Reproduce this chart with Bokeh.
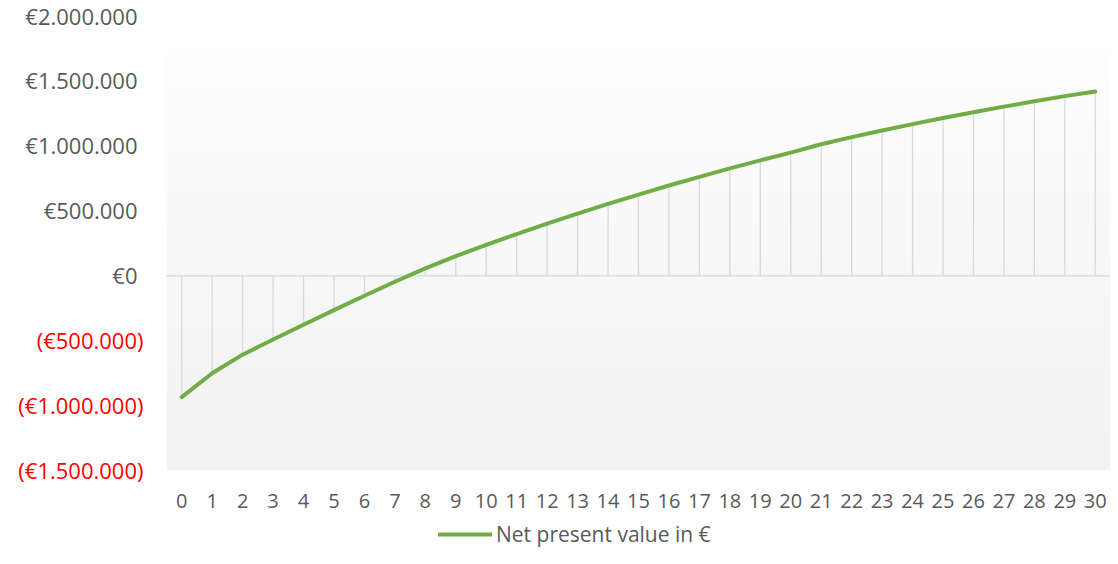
import numpy as np
from bokeh.plotting import figure
from bokeh.models import Range1d, Legend, LegendItem
from bokeh.core.properties import value
from bokeh.embed import file_html
from bokeh.resources import INLINE

# ---- data ----
years = list(range(0, 31))
npv = [-934000, -750000, -607000, -490000, -376000, -264000, -153000, -45000, 58000, 152000,
       240000, 323000, 403000, 480000, 555000, 627000, 697000, 764000, 829000, 891000,
       951000, 1015000, 1070000, 1121000, 1170000, 1217000, 1262000, 1305000, 1346000, 1386000,
       1422000]
series_name = "Net present value in €"
ytick_values = [-1500000, -1000000, -500000, 0, 500000, 1000000, 1500000, 2000000]
ytick_labels = ["(€1.500.000)", "(€1.000.000)", "(€500.000)", "€0",
                "€500.000", "€1.000.000", "€1.500.000", "€2.000.000"]
year_labels = [str(y) for y in years]

GRAY = "#595959"
RED = "#ff0000"
FONT = "Open Sans"

# ---- layout (pixels) ----
W, H = 1110, 548
L, T, B = 166, 16, 470          # plot-area left / top / bottom in pixels
R = W                            # plot-area right

x0, x1 = years[0] - 0.5, years[-1] + 0.5
y0, y1 = min(ytick_values), max(ytick_values)
ux = (x1 - x0) / (R - L)
uy = (y1 - y0) / (B - T)

p = figure(width=W, height=H, output_backend="svg", toolbar_location=None,
           x_range=Range1d(x0 - L * ux, x1 + (W - R) * ux),
           y_range=Range1d(y0 - (H - B) * uy, y1 + T * uy),
           x_axis_location=None, y_axis_location=None,
           min_border=0)
p.min_border_left = 0
p.min_border_right = 0
p.min_border_top = 0
p.min_border_bottom = 0
p.outline_line_color = None
p.xgrid.visible = False
p.ygrid.visible = False
p.background_fill_color = "white"
p.border_fill_color = "white"

# gradient plot-area background (white at top -> light gray at bottom)
n = 256
shade = np.linspace(0xf2, 0xff, n).astype(np.uint8)
img = np.empty((n, 1), dtype=np.uint32)
view = img.view(dtype=np.uint8).reshape((n, 1, 4))
view[:, 0, 0] = shade
view[:, 0, 1] = shade
view[:, 0, 2] = shade
view[:, 0, 3] = 255
p.image_rgba(image=[img], x=x0, y=y0, dw=x1 - x0, dh=y1 - y0)

# horizontal axis line at zero
p.segment(x0=[x0], y0=[0], x1=[x1], y1=[0], line_color="#d9d9d9", line_width=1.3)

# drop lines
p.segment(x0=years, y0=[0] * len(years), x1=years, y1=npv, line_color="#d9d9d9", line_width=1.3)

# series
r = p.line(years, npv, line_color="#70AD47", line_width=4, line_join="round", line_cap="round")

# y tick labels (negatives in red, positives padded like Excel's "_)")
ycolors = [RED if v < 0 else GRAY for v in ytick_values]
yoffs = [-23 if v < 0 else -29 for v in ytick_values]
p.text(x=[x0] * len(ytick_values), y=ytick_values, text=ytick_labels,
       text_color=ycolors, x_offset=yoffs, y_offset=-1, text_align="right", text_baseline="middle",
       text_font=value(FONT), text_font_size="22px")

# x tick labels
p.text(x=years, y=[y0] * len(years), text=year_labels, y_offset=30,
       text_color=GRAY, text_align="center", text_baseline="middle",
       text_font=value(FONT), text_font_size="20px")

legend = Legend(items=[LegendItem(label=series_name, renderers=[r])],
                location=(438, 0), orientation="horizontal",
                glyph_width=54, glyph_height=20, label_standoff=4,
                padding=0, margin=0, border_line_color=None, background_fill_alpha=0,
                label_text_font=FONT, label_text_font_size="21px", label_text_color=GRAY)
p.add_layout(legend)

open("out.html", "w").write(file_html(p, INLINE))
